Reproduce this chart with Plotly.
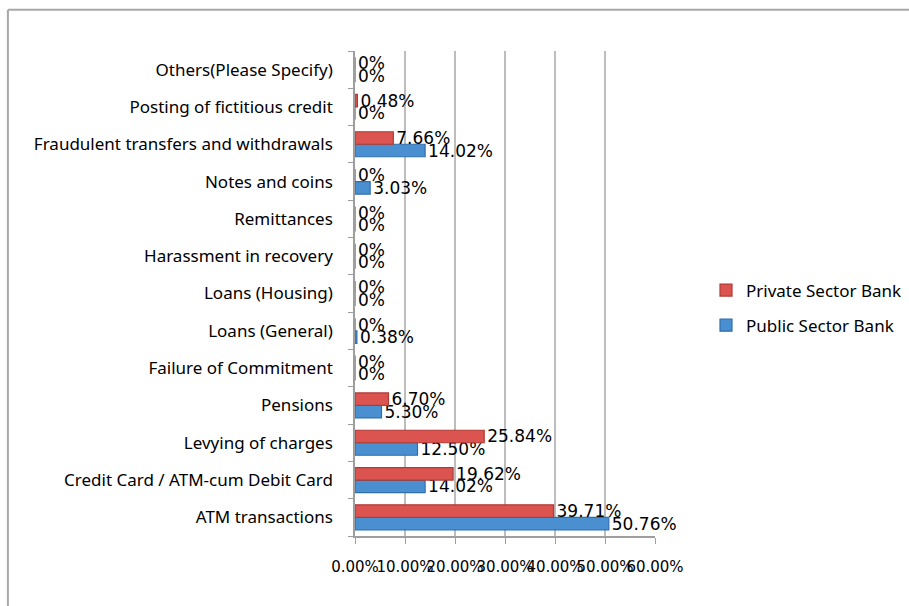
import plotly.graph_objects as go

# Complaint categories, bottom to top
categories = [
    "ATM transactions",
    "Credit Card / ATM-cum Debit Card",
    "Levying of charges",
    "Pensions",
    "Failure of Commitment",
    "Loans (General)",
    "Loans (Housing)",
    "Harassment in recovery",
    "Remittances",
    "Notes and coins",
    "Fraudulent transfers and withdrawals",
    "Posting of fictitious credit",
    "Others(Please Specify)",
]

public_sector = [50.76, 14.02, 12.50, 5.30, 0, 0.38, 0, 0, 0, 3.03, 14.02, 0, 0]
private_sector = [39.71, 19.62, 25.84, 6.70, 0, 0, 0, 0, 0, 0, 7.66, 0.48, 0]

tick_values = [0, 10, 20, 30, 40, 50, 60]
tick_labels = ["0.00%", "10.00%", "20.00%", "30.00%", "40.00%", "50.00%", "60.00%"]

BLUE = "#4A8FD0"
RED = "#DB5450"


def pct_text(values):
    return [f"{v:.2f}%" if v else "0%" for v in values]


label_font = dict(family="DejaVu Sans", size=17, color="#000000")

fig = go.Figure()
fig.add_trace(go.Bar(
    y=categories, x=public_sector, orientation="h", name="Public Sector Bank",
    legendgroup="public", legendrank=2,
    marker=dict(color=BLUE, line=dict(color="#2F6FAE", width=1.2)),
    text=pct_text(public_sector), textposition="outside",
    textfont=label_font, cliponaxis=False, constraintext="none",
))
fig.add_trace(go.Bar(
    y=categories, x=private_sector, orientation="h", name="Private Sector Bank",
    legendgroup="private", legendrank=1,
    marker=dict(color=RED, line=dict(color="#B03A36", width=1.2)),
    text=pct_text(private_sector), textposition="outside",
    textfont=label_font, cliponaxis=False, constraintext="none",
))

fig.update_layout(
    width=909, height=606,
    margin=dict(l=355, r=254, t=51, b=70, autoexpand=False),
    paper_bgcolor="white", plot_bgcolor="white",
    barmode="group", bargap=0.33, bargroupgap=0.0,
    showlegend=True,
    legend=dict(
        x=1.17, y=0.47, xanchor="left", yanchor="middle",
        traceorder="grouped",
        font=dict(family="Noto Sans", size=17, color="#000000"),
        itemwidth=30, tracegroupgap=10,
        bgcolor="rgba(0,0,0,0)",
    ),
    xaxis=dict(
        range=[0, 60], tickvals=tick_values, ticktext=tick_labels,
        tickangle=0, automargin=False,
        showgrid=True, gridcolor="#BDBDBD", gridwidth=1.5,
        zeroline=False, showline=True, linecolor="#9E9E9E", linewidth=1.5,
        ticks="outside", ticklen=6, tickcolor="#9E9E9E",
        ticklabelstandoff=10,
        tickfont=dict(family="DejaVu Sans", size=15, color="#000000"),
    ),
    yaxis=dict(
        type="category", categoryorder="array", categoryarray=categories,
        automargin=False,
        showgrid=False, zeroline=False,
        showline=True, linecolor="#9E9E9E", linewidth=1.5,
        ticks="outside", tickson="boundaries", ticklen=5, tickcolor="#9E9E9E",
        ticklabelstandoff=17,
        tickfont=dict(family="Noto Sans", size=17, color="#000000"),
    ),
    shapes=[
        dict(type="line", xref="paper", yref="paper",
             x0=-1.157, x1=1.9, y0=1.085, y1=1.085,
             line=dict(color="#A8A8A8", width=2)),
        dict(type="line", xref="paper", yref="paper",
             x0=-1.157, x1=-1.157, y0=1.085, y1=-0.2,
             line=dict(color="#A8A8A8", width=2)),
    ],
)

fig.write_html("out.html")
